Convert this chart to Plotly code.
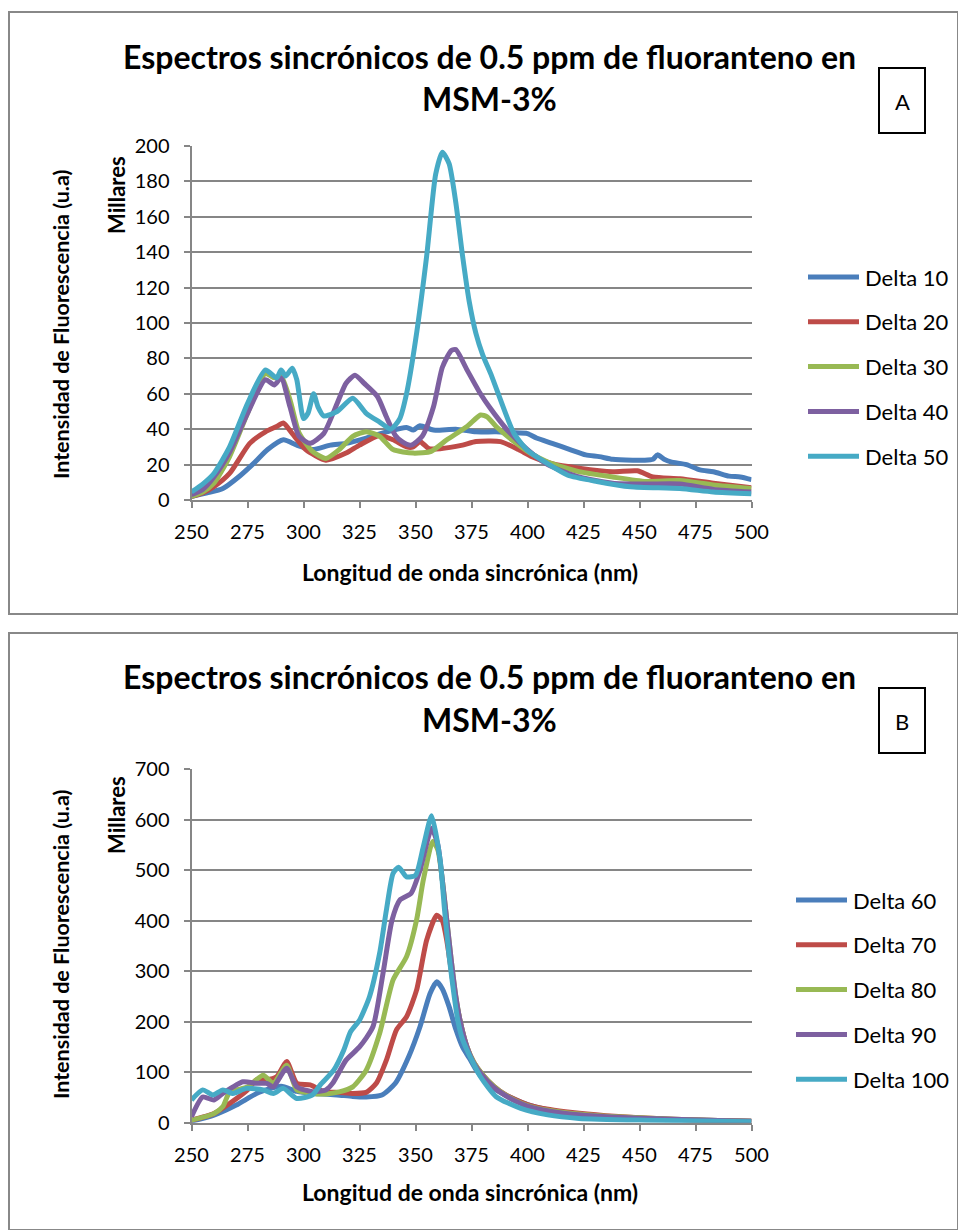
import plotly.graph_objects as go

W, H = 958, 1230

# ---------------- Panel A: Delta 10 - 50 ----------------
d10_x = [250, 257, 264, 271, 278, 284, 291, 297, 304, 312, 319, 328, 337, 346, 349, 352, 358, 368, 377, 386,
         393, 400, 404, 411, 419, 426, 432, 438, 447, 452, 456, 458, 461, 464, 471, 477, 483, 490, 495, 500]
d10_y = [2, 4, 6.5, 13, 21, 28.5, 34, 31, 28.5, 31, 32, 35, 38.5, 41, 39.5, 42, 39.5, 40, 38.5, 38.5,
         38, 37.5, 35, 32, 28.5, 25.5, 24.5, 23, 22.5, 22.5, 23, 25.5, 23, 21.5, 20, 17, 16, 13.5, 13, 11.5]

d20_x = [250, 255, 260, 267, 276, 283, 288, 291, 295, 301, 310, 319, 325, 334, 340, 346, 349, 352, 356, 361,
         371, 377, 388, 396, 402, 411, 423, 438, 449, 456, 468, 483, 500]
d20_y = [2, 4, 7.5, 15, 32, 38.5, 41.5, 43.5, 37.5, 28.5, 22.5, 26.5, 31, 36.5, 34, 30, 30, 33, 29, 29,
         31, 33, 33, 28.5, 24.5, 20.5, 18, 16, 16.5, 13, 12, 9.5, 7]

d30_x = [250, 255, 260, 267, 275, 283, 287, 290, 294, 298, 304, 310, 316, 322, 328, 334, 340, 349, 357, 364,
         373, 379, 382, 386, 394, 400, 409, 423, 438, 453, 468, 483, 500]
d30_y = [2, 4.5, 9.5, 24.5, 49, 71.5, 69, 70, 56.5, 38, 27.5, 23.5, 28.5, 36, 38.5, 36, 28.5, 26.5, 27.5, 34,
         41.5, 48, 47, 41.5, 33, 27.5, 21.5, 16, 13, 10.5, 11, 8.5, 6.5]

d40_x = [250, 255, 260, 267, 275, 283, 287, 290, 294, 298, 303, 309, 315, 319, 323, 327, 333, 337, 341, 344,
         348, 353, 358, 362, 366, 368, 373, 379, 383, 391, 400, 409, 423, 438, 453, 468, 483, 500]
d40_y = [3, 6, 13, 27, 49, 68, 65, 69, 52.5, 36, 32, 37.5, 54.5, 66, 70.5, 66, 58.5, 47, 36.5, 33,
         31, 36, 52.5, 75, 84.5, 85, 73.5, 60, 52.5, 39.5, 28.5, 20, 13, 9.5, 9, 9, 6, 4.5]

d50_x = [250, 255, 260, 267, 275, 283, 288, 290, 292, 295, 297, 300, 302, 304.5, 306.5, 309, 315, 322, 328, 334,
         339, 343, 346, 350, 355, 359, 362, 365, 368, 371, 374, 377, 380, 384, 389, 394, 400, 409, 418, 431,
         446, 468, 483, 500]
d50_y = [4.5, 9, 15, 30, 54.5, 73.5, 69, 73.5, 70, 74.5, 68, 46, 49, 60, 52.5, 47.5, 50, 57.5, 49, 44,
         40, 46, 60, 90, 138, 184, 196.5, 190, 168, 138, 112, 94, 82, 70, 53, 37.5, 28, 20.5, 14, 10.5,
         7.5, 6.5, 4.5, 3.5]

# ---------------- Panel B: Delta 60 - 100 ----------------
d60_x = [250, 260, 270, 280, 290, 297, 305, 315, 322, 328, 335, 341, 347, 352, 356.5, 359.5, 362, 365, 368, 371,
         374, 377, 380, 385, 390, 395, 400, 410, 420, 435, 450, 465, 480, 500]
d60_y = [3, 15, 35, 60, 72, 62, 58, 55, 52, 51, 55, 78, 131, 190, 256, 279, 265, 230, 185, 150,
         128, 105, 88, 68, 55, 45, 36, 25, 18, 12, 9, 6, 5, 3]

d70_x = [250, 260, 267, 275, 279, 283.5, 288, 292.5, 297, 303, 309, 316, 322, 328, 332.5, 337, 341.5, 346, 350.5, 355,
         359.5, 362, 364, 367, 370, 373, 376, 380, 385, 390, 395, 400, 410, 420, 435, 450, 465, 480, 500]
d70_y = [5, 18, 38, 65, 85, 85, 91, 121, 78, 75, 61.5, 60, 58, 60, 78, 124, 184, 210, 263, 362,
         411, 400, 360, 270, 200, 150, 120, 95, 72, 56, 45, 36, 26, 20, 14, 10, 7, 5, 3]

d80_x = [250, 260, 264, 267, 275, 282, 286.5, 292.5, 297, 304, 310, 316, 322, 328, 334, 340, 346, 350.5, 353.5, 357.7,
         360, 362, 364, 366, 368, 370, 373, 376, 380, 385, 390, 395, 400, 410, 420, 435, 450, 465, 480, 500]
d80_y = [5, 18, 32, 60, 71, 94, 78, 114, 65, 58, 57, 61, 71, 104, 177, 283, 329, 402, 481, 557,
         540, 480, 400, 320, 250, 200, 150, 120, 95, 72, 55, 43, 34, 24, 18, 13, 10, 7, 5, 3]

d90_x = [250, 255, 260, 264, 273, 279, 283.5, 286.5, 292.5, 297, 304, 310, 313, 319, 325, 331, 335.5, 339.5, 343, 348,
         352, 357.2, 360, 362, 364, 366, 368, 370, 373, 376, 380, 385, 390, 395, 400, 410, 420, 435, 450, 465,
         480, 500]
d90_y = [12, 51, 45, 58, 81, 78, 78, 71, 108, 71, 61.5, 65, 78, 124, 150, 190, 296, 401, 441, 454,
         500, 583, 550, 480, 400, 320, 250, 200, 150, 118, 93, 70, 54, 42, 33, 23, 17, 12, 9, 7,
         5, 3]

d100_x = [250, 255, 259.5, 264, 268.5, 274.5, 282, 286.5, 291, 297, 304, 307.5, 313.5, 318, 321, 325, 329.5, 334, 337, 340,
          342.5, 346, 350, 353.5, 357.2, 361, 363, 365, 367.5, 369, 371, 373, 375, 379, 386, 397, 409, 423, 453, 500]
d100_y = [45, 65, 55, 65, 58, 68, 65, 58, 68, 48, 55, 75, 104, 144, 180, 203, 250, 336, 421, 494,
          506, 487, 490, 547, 608, 520, 420, 330, 243, 200, 165, 144, 125, 91, 51.5, 28.5, 15.5, 8.5, 5, 2]

names_a = ["Delta 10", "Delta 20", "Delta 30", "Delta 40", "Delta 50"]
names_b = ["Delta 60", "Delta 70", "Delta 80", "Delta 90", "Delta 100"]
series_a = [(d10_x, d10_y), (d20_x, d20_y), (d30_x, d30_y), (d40_x, d40_y), (d50_x, d50_y)]
series_b = [(d60_x, d60_y), (d70_x, d70_y), (d80_x, d80_y), (d90_x, d90_y), (d100_x, d100_y)]

x_ticks = [250, 275, 300, 325, 350, 375, 400, 425, 450, 475, 500]

colors = ["#4A7EBB", "#BE4B48", "#98B954", "#7D60A0", "#46AAC5"]

title_l1 = "Espectros sincrónicos de 0.5 ppm de fluoranteno en"
title_l2 = "MSM-3%"
y_title = "Intensidad de Fluorescencia (u.a)"
x_title = "Longitud de onda sincrónica (nm)"
unit_label = "Millares"

FONT = "Lato"
GRID = "#868686"


def fx(p):
    return p / W


def fy(p):
    return 1 - p / H


fig = go.Figure()

for (xs, ys), name, c in zip(series_a, names_a, colors):
    fig.add_trace(go.Scatter(x=xs, y=ys, name=name, mode="lines", xaxis="x", yaxis="y",
                             line=dict(color=c, width=5, shape="spline", smoothing=0.6),
                             showlegend=False))
for (xs, ys), name, c in zip(series_b, names_b, colors):
    fig.add_trace(go.Scatter(x=xs, y=ys, name=name, mode="lines", xaxis="x2", yaxis="y2",
                             line=dict(color=c, width=5, shape="spline", smoothing=0.6),
                             showlegend=False))

xaxis_style = dict(range=[250, 500], tickvals=x_ticks, showgrid=False, zeroline=False,
                   showline=True, linecolor=GRID, linewidth=2, ticks="outside", ticklen=6,
                   tickwidth=2, tickcolor=GRID, tickfont=dict(family=FONT, size=20, color="black"),
                   ticklabelstandoff=7, fixedrange=True, automargin=False)
yaxis_style = dict(showgrid=True, gridcolor=GRID, gridwidth=2, zeroline=False,
                   showline=True, linecolor=GRID, linewidth=2, ticks="outside", ticklen=6,
                   tickwidth=2, tickcolor=GRID, tickfont=dict(family=FONT, size=20, color="black"),
                   ticklabelstandoff=10, fixedrange=True, automargin=False)

# plot-area geometry (pixels)
PX0, PX1 = 191.5, 751.5
A_TOP, A_BOT = 146, 500
B_TOP, B_BOT = 769.3, 1122.7

fig.update_layout(
    width=W, height=H, margin=dict(l=0, r=0, t=0, b=0, pad=0, autoexpand=False),
    paper_bgcolor="white", plot_bgcolor="white",
    xaxis=dict(domain=[fx(PX0), fx(PX1)], anchor="y", **xaxis_style),
    yaxis=dict(domain=[fy(A_BOT), fy(A_TOP)], anchor="x", range=[0, 200], dtick=20, **yaxis_style),
    xaxis2=dict(domain=[fx(PX0), fx(PX1)], anchor="y2", **xaxis_style),
    yaxis2=dict(domain=[fy(B_BOT), fy(B_TOP)], anchor="x2", range=[0, 700], dtick=100, **yaxis_style),
    showlegend=False,
)

shapes = []
annotations = []

# outer frames of the two charts
shapes.append(dict(type="rect", xref="paper", yref="paper", x0=fx(9), x1=fx(958), y0=fy(614), y1=fy(12),
                   line=dict(color="#888888", width=2), layer="below"))
shapes.append(dict(type="rect", xref="paper", yref="paper", x0=fx(9), x1=fx(958), y0=fy(1230), y1=fy(633),
                   line=dict(color="#888888", width=2), layer="below"))


def text(x, y, s, size, bold=False, angle=0, xanchor="center", color="black"):
    annotations.append(dict(x=fx(x), y=fy(y), xref="paper", yref="paper", text=f"<b>{s}</b>" if bold else s,
                            showarrow=False, xanchor=xanchor, yanchor="middle", textangle=angle,
                            font=dict(family=FONT, size=size, color=color)))


def panel(off, letter, names, legend_x, legend_y0):
    # chart title, two lines
    text(489, off + 56, title_l1, 32, bold=True)
    text(489, off + 99, title_l2, 32, bold=True)
    # corner letter box
    shapes.append(dict(type="rect", xref="paper", yref="paper", x0=fx(879), x1=fx(925),
                       y0=fy(off + 133), y1=fy(off + 68), line=dict(color="black", width=2)))
    text(902, off + 101, letter, 22)
    # axis titles
    text(61, off + 325, y_title, 21.5, bold=True, angle=-90)
    text(116, off + 195, unit_label, 22, bold=True, angle=-90)
    text(470, off + 572, x_title, 23, bold=True)
    # legend
    for i, (name, c) in enumerate(zip(names, colors)):
        yy = legend_y0 + i * 44.8
        shapes.append(dict(type="line", xref="paper", yref="paper", x0=fx(legend_x), x1=fx(legend_x + 51),
                           y0=fy(yy), y1=fy(yy), line=dict(color=c, width=5)))
        text(legend_x + 55, yy, name, 22, xanchor="left")


panel(0, "A", names_a, 808, 277)
panel(620, "B", names_b, 796, 900)

fig.update_layout(shapes=shapes, annotations=annotations)

fig.write_html("out.html")
